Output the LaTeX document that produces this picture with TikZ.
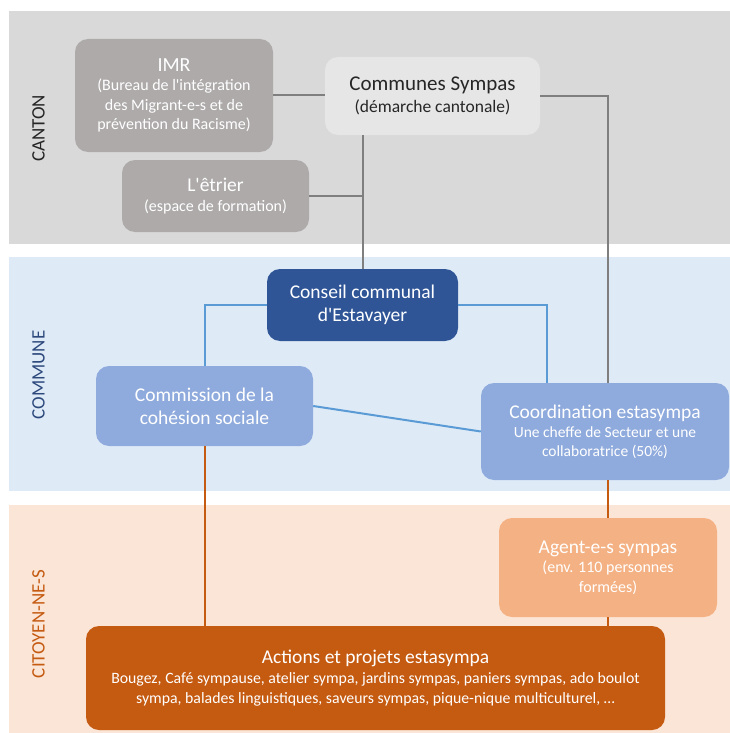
\documentclass[tikz,border=0pt]{standalone}
\usepackage{fontspec}
\setmainfont{Carlito}[Ligatures=TeXOff]
\definecolor{bandgray}{HTML}{D9D9D9}
\definecolor{bandblue}{HTML}{DEEBF7}
\definecolor{bandorange}{HTML}{FBE5D6}
\definecolor{boxgray}{HTML}{AEAAAA}
\definecolor{boxlight}{HTML}{E7E6E6}
\definecolor{darkblue}{HTML}{2F5597}
\definecolor{midblue}{HTML}{8FAADC}
\definecolor{lineblue}{HTML}{5B9BD5}
\definecolor{darkorange}{HTML}{C55A11}
\definecolor{lightorange}{HTML}{F4B183}
\definecolor{linegray}{HTML}{7F7F7F}
\definecolor{txtdark}{HTML}{262626}
\definecolor{labgray}{HTML}{262626}
\definecolor{labblue}{HTML}{2E4A7D}
\newcommand{\ttl}[1]{{\fontsize{19.5}{22}\selectfont #1}}
\begin{document}
\begin{tikzpicture}[x=1pt,y=-1pt,
  box/.style={rounded corners=13pt, inner sep=0pt, align=center, text=white,
    font=\fontsize{16}{19.5}\selectfont},
  lab/.style={rotate=90, inner sep=0pt, font=\fontsize{19}{22}\selectfont},
  gline/.style={draw=linegray, line width=2pt},
  bline/.style={draw=lineblue, line width=2pt},
  oline/.style={draw=darkorange, line width=2pt}]
\useasboundingbox (0,0) rectangle (730,733);
\fill[white] (0,0) rectangle (730,733);
% bands
\fill[bandgray] (9,11) rectangle (730,244);
\fill[bandblue] (9,257) rectangle (730,491);
\fill[bandorange] (9,505) rectangle (730,733);
% band labels
\node[lab, text=labgray] (lcanton) at (38.5,128.5) {CANTON};
\node[lab, text=labblue] (lcommune) at (38.5,375) {COMMUNE};
\node[lab, text=darkorange] (lcitoyen) at (38.5,624) {CITOYEN-NE-S};
% boxes
\node[box, fill=boxgray, minimum width=198pt, minimum height=113pt] (imr) at (174,95.5)
  {{\fontsize{20}{22}\selectfont IMR}\\(Bureau de l'intégration\\des Migrant-e-s et de\\prévention du Racisme)};
\node[box, fill=boxlight, text=txtdark, minimum width=215pt, minimum height=78pt,
  font=\fontsize{17.5}{22}\selectfont] (cs) at (432.5,96)
  {{\fontsize{21}{24}\selectfont Communes Sympas}\\(démarche cantonale)};
\node[box, fill=boxgray, minimum width=187pt, minimum height=72pt] (etrier) at (215.5,196)
  {\ttl{L'êtrier}\\(espace de formation)};
\node[box, fill=darkblue, minimum width=191pt, minimum height=72pt,
  font=\fontsize{19.5}{23}\selectfont] (conseil) at (362.5,305)
  {Conseil communal\\d'Estavayer};
\node[box, fill=midblue, minimum width=217pt, minimum height=80pt,
  font=\fontsize{19.5}{23}\selectfont] (commission) at (204.5,406)
  {Commission de la\\cohésion sociale};
\node[box, fill=midblue, minimum width=248pt, minimum height=97pt,
  font=\fontsize{15.5}{19}\selectfont] (coord) at (605,431.5)
  {{\fontsize{19.5}{22}\selectfont Coordination estasympa}\\Une cheffe de Secteur et une\\collaboratrice (50\%)};
\node[box, fill=lightorange, minimum width=218pt, minimum height=99pt] (agent) at (608,567.5)
  {\ttl{Agent-e-s sympas}\\(env. 110 personnes\\formées)};
\node[box, fill=darkorange, minimum width=579pt, minimum height=104pt,
  font=\fontsize{15.8}{20}\selectfont] (actions) at (375.5,678)
  {{\fontsize{19.5}{23}\selectfont Actions et projets estasympa}\\Bougez, Café sympause, atelier sympa, jardins sympas, paniers sympas, ado boulot\\sympa, balades linguistiques, saveurs sympas, pique-nique multiculturel, \dots};
% connectors
\draw[gline] (imr.east) -- (imr.east -| cs.west);
\draw[gline] (conseil.north) -- (conseil.north |- cs.south);
\draw[gline] (etrier.east) -- (etrier.east -| conseil.north);
\draw[gline] (cs.east) -| (agent.north |- coord.north);
\draw[bline] (conseil.west) -| (commission.north);
\draw[bline] (conseil.east) -| ([xshift=-58pt]coord.north);
\draw[bline] (commission.east) -- (coord.west);
\draw[oline] (agent.north) -- (agent.north |- coord.south);
\draw[oline] (agent.south) -- (agent.south |- actions.north);
\draw[oline] (commission.south) -- (commission.south |- actions.north);
\end{tikzpicture}
\end{document}
